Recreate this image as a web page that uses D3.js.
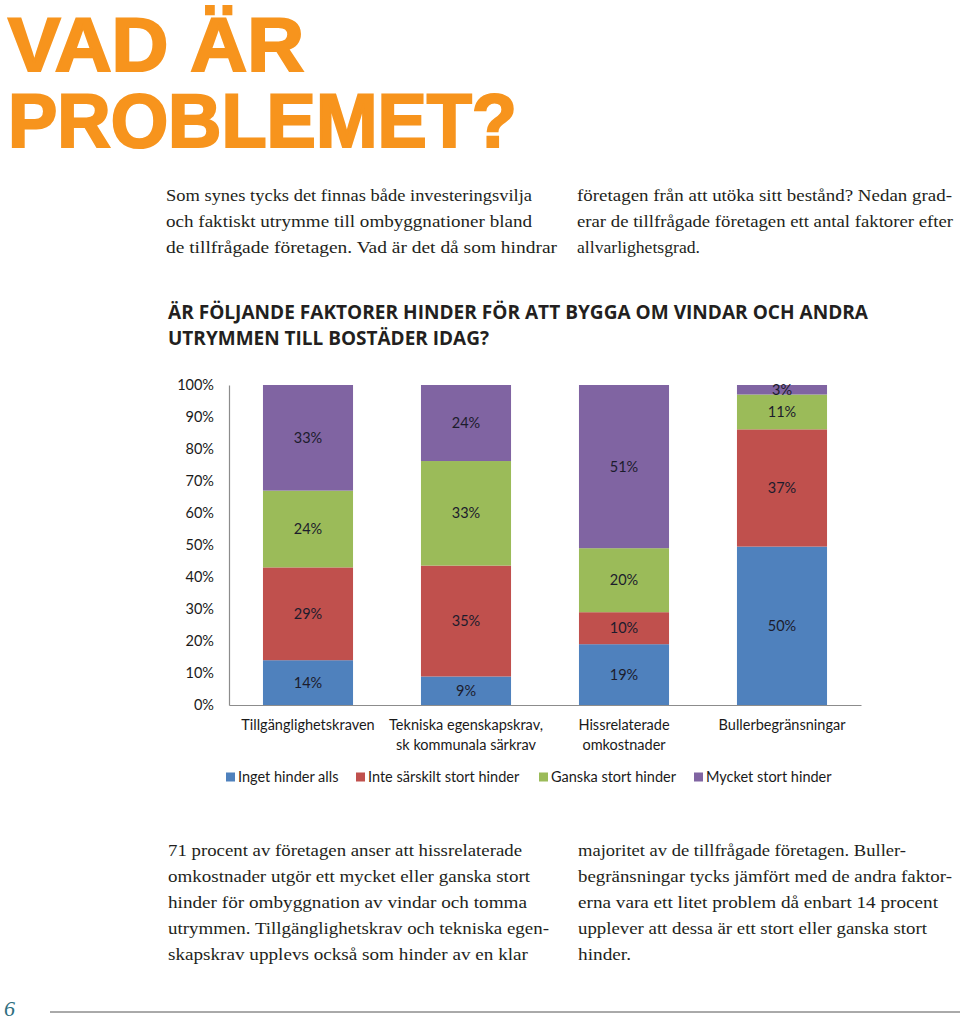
<!DOCTYPE html>
<html><head><meta charset="utf-8">
<script src="https://cdn.jsdelivr.net/npm/d3@7/dist/d3.min.js"></script>
<style>
html,body{margin:0;padding:0;background:#fff;}
svg{display:block;}
</style></head>
<body>
<svg id="page" width="960" height="1023"></svg>
<script>
// ---- data ----
const categories = [["Tillgänglighetskraven"], ["Tekniska egenskapskrav,", "sk kommunala särkrav"], ["Hissrelaterade", "omkostnader"], ["Bullerbegränsningar"]];
const seriesNames = ["Inget hinder alls", "Inte särskilt stort hinder", "Ganska stort hinder", "Mycket stort hinder"];
const ingetHinder = [14, 9, 19, 50];
const inteSarskilt = [29, 35, 10, 37];
const ganskaStort = [24, 33, 20, 11];
const mycketStort = [33, 24, 51, 3];
const yTicks = [0, 0.1, 0.2, 0.3, 0.4, 0.5, 0.6, 0.7, 0.8, 0.9, 1.0];
const seriesColors = ["#4F81BD", "#C0504D", "#9BBB59", "#8064A2"];

const titleLines = ["VAD ÄR", "PROBLEMET?"];
const introLeft = ["Som synes tycks det finnas både investeringsvilja", "och faktiskt utrymme till ombyggnationer bland", "de tillfrågade företagen. Vad är det då som hindrar"];
const introRight = ["företagen från att utöka sitt bestånd? Nedan grad-", "erar de tillfrågade företagen ett antal faktorer efter", "allvarlighetsgrad."];
const chartTitle = ["ÄR FÖLJANDE FAKTORER HINDER FÖR ATT BYGGA OM VINDAR OCH ANDRA", "UTRYMMEN TILL BOSTÄDER IDAG?"];
const outroLeft = ["71 procent av företagen anser att hissrelaterade", "omkostnader utgör ett mycket eller ganska stort", "hinder för ombyggnation av vindar och tomma", "utrymmen. Tillgänglighetskrav och tekniska egen-", "skapskrav upplevs också som hinder av en klar"];
const outroRight = ["majoritet av de tillfrågade företagen. Buller-", "begränsningar tycks jämfört med de andra faktor-", "erna vara ett litet problem då enbart 14 procent", "upplever att dessa är ett stort eller ganska stort", "hinder."];

// ---- layout ----
const svg = d3.select("#page");
const orange = "#F7941D";
const textCol = "#231F20";

// Title (one text, two lines)
const titleWidths = [296, 509];
const title = svg.append("text")
  .attr("x", 8).attr("y", 71)
  .attr("font-family", "Liberation Sans, Arial, sans-serif")
  .attr("font-weight", "bold").attr("font-size", 76)
  .attr("fill", orange).attr("stroke", orange).attr("stroke-width", 2.2);
title.selectAll("tspan").data(titleLines).join("tspan")
  .attr("x", 8).attr("y", (d, i) => 71 + i * 76)
  .attr("textLength", (d, i) => titleWidths[i]).attr("lengthAdjust", "spacingAndGlyphs")
  .text(d => d);

function paragraph(lines, x, y0, widths) {
  svg.append("g").selectAll("text").data(lines).join("text")
    .attr("x", x).attr("y", (d, i) => y0 + i * 26)
    .attr("font-family", "Liberation Serif, Times New Roman, serif")
    .attr("font-size", 17.5).attr("fill", textCol)
    .attr("textLength", (d, i) => widths[i]).attr("lengthAdjust", "spacingAndGlyphs")
    .text(d => d);
}
paragraph(introLeft, 166, 201, [366, 366, 391]);
paragraph(introRight, 577, 201, [375, 376, 123]);
paragraph(outroLeft, 168, 856, [354, 362, 359, 381, 360]);
paragraph(outroRight, 578, 856, [328, 374, 360, 349, 53]);

// Chart title
const ctWidths = [700, 321];
svg.append("g").selectAll("text").data(chartTitle).join("text")
  .attr("x", 168).attr("y", (d, i) => 319 + i * 26)
  .attr("font-family", "Open Sans, Liberation Sans, sans-serif")
  .attr("font-weight", "bold").attr("font-size", 19).attr("fill", textCol)
  .attr("textLength", (d, i) => ctWidths[i]).attr("lengthAdjust", "spacingAndGlyphs")
  .text(d => d);

// ---- chart ----
const chartFont = "Lato, Open Sans, sans-serif";
const x0 = 229, x1 = 861, yTop = 385, yBot = 705;
const x = d3.scaleBand().domain(d3.range(categories.length)).range([x0, x1]).paddingInner(0.43).paddingOuter(0.215);
const y = d3.scaleLinear().domain([0, 1]).range([yBot, yTop]);

const rows = categories.map((c, i) => ({ i, s0: ingetHinder[i], s1: inteSarskilt[i], s2: ganskaStort[i], s3: mycketStort[i] }));
const keys = ["s0", "s1", "s2", "s3"];
const raw = [ingetHinder, inteSarskilt, ganskaStort, mycketStort];
const stack = d3.stack().keys(keys).offset(d3.stackOffsetExpand);
const stacked = stack(rows);

const chart = svg.append("g");
stacked.forEach((layer, k) => {
  const g = chart.append("g");
  g.selectAll("rect").data(layer).join("rect")
    .attr("x", d => x(d.data.i)).attr("width", x.bandwidth())
    .attr("y", d => y(d[1])).attr("height", d => y(d[0]) - y(d[1]))
    .attr("fill", seriesColors[k]);
  g.selectAll("text").data(layer).join("text")
    .attr("x", d => x(d.data.i) + x.bandwidth() / 2)
    .attr("y", d => y((d[0] + d[1]) / 2))
    .attr("dy", "0.35em").attr("text-anchor", "middle")
    .attr("font-family", chartFont).attr("font-size", 14.5).attr("fill", "#1c1c2c")
    .text(d => raw[k][d.data.i] + "%");
});

// y axis
const yAxis = d3.axisLeft(y).tickValues(yTicks).tickFormat(d3.format(".0%")).tickSize(0).tickPadding(15);
const ya = svg.append("g").attr("transform", `translate(${x0},0)`).call(yAxis);
ya.select(".domain").attr("stroke", "#8c8c8c").attr("stroke-width", 1.2);
ya.selectAll("text").attr("font-family", chartFont).attr("font-size", 14.5).attr("fill", "#1a1a1a");

// x axis
const xAxis = d3.axisBottom(x).tickSize(0).tickSizeOuter(0).tickFormat("");
const xa = svg.append("g").attr("transform", `translate(0,${yBot})`).call(xAxis);
xa.select(".domain").attr("stroke", "#8c8c8c").attr("stroke-width", 1.2);
const xl = svg.append("g").selectAll("text").data(categories).join("text")
  .attr("x", (d, i) => x(i) + x.bandwidth() / 2).attr("y", 730)
  .attr("text-anchor", "middle").attr("font-family", chartFont)
  .attr("font-size", 14.5).attr("fill", "#1a1a1a");
xl.selectAll("tspan").data(d => d).join("tspan")
  .attr("x", function () { return d3.select(this.parentNode).attr("x"); })
  .attr("dy", (d, j) => j === 0 ? 0 : 20).text(d => d);

// legend
const legendX = [226, 356, 539, 694];
const lg = svg.append("g").selectAll("g").data(seriesNames).join("g")
  .attr("transform", (d, i) => `translate(${legendX[i]},777)`);
lg.append("rect").attr("x", 0).attr("y", -4.5).attr("width", 9).attr("height", 9)
  .attr("fill", (d, i) => seriesColors[i]);
lg.append("text").attr("x", 12).attr("dy", "0.35em")
  .attr("font-family", chartFont).attr("font-size", 14.5).attr("fill", "#1a1a1a")
  .text(d => d);

// footer
svg.append("text").attr("x", 4).attr("y", 1016)
  .attr("font-family", "Liberation Serif, serif").attr("font-style", "italic")
  .attr("font-size", 22).attr("fill", "#2E6E7E").text("6");
svg.append("line").attr("x1", 50).attr("x2", 960).attr("y1", 1012).attr("y2", 1012)
  .attr("stroke", "#555").attr("stroke-width", 1);
</script>
</body></html>
